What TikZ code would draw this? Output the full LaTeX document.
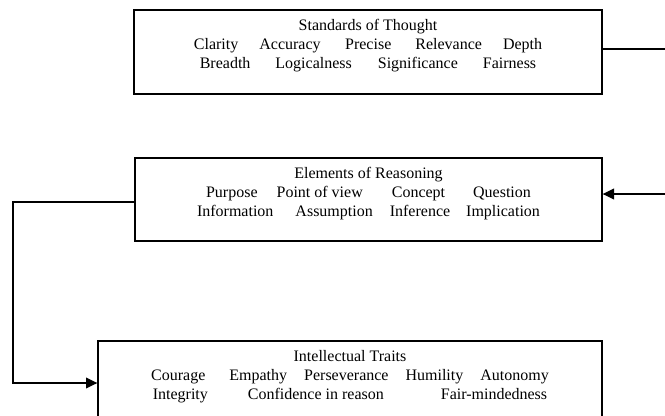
\documentclass[tikz,border=0pt]{standalone}
\usepackage{fontspec}
\setmainfont{Liberation Serif}
\usetikzlibrary{arrows.meta}

\begin{document}
\begin{tikzpicture}[x=0.75pt, y=-0.75pt, line width=1pt,
    box/.style={draw, shape=rectangle, inner sep=0, minimum height=63pt},
    boxtext/.style={align=center, inner sep=0,
        font=\fontsize{12pt}{14.25pt}\selectfont},
    tip/.style={-{Triangle[length=8.5pt, width=8pt]}}]

    \useasboundingbox (0, 0) rectangle (665, 415);

    % Boxes
    \node[box, minimum width=351pt] (std) at (368, 52) {};
    \node[box, minimum width=350.25pt, minimum height=62.25pt] (elem) at (368.5, 199.5) {};
    \node[box, minimum width=378pt] (traits) at (350, 383) {};

    % Texts
    \node[boxtext] (std-text) at ([yshift=4.5pt]std.center) {Standards of Thought\\
        Clarity\hspace{15.75pt}Accuracy\hspace{18.4pt}Precise\hspace{18pt}Relevance\hspace{15.75pt}Depth\\
        Breadth\hspace{18.75pt}Logicalness\hspace{19.5pt}Significance\hspace{18.75pt}Fairness};
    \node[boxtext] (elem-text) at ([yshift=4.5pt]elem.center) {Elements of Reasoning\\
        Purpose\hspace{14.25pt}Point of view\hspace{21.75pt}Concept\hspace{21pt}Question\\
        Information\hspace{16.5pt}Assumption\hspace{12.75pt}Inference\hspace{12pt}Implication};
    \node[boxtext] (traits-text) at ([yshift=4.5pt]traits.center) {Intellectual Traits\\
        Courage\hspace{18pt}Empathy\hspace{12.75pt}Perseverance\hspace{12.75pt}Humility\hspace{12.75pt}Autonomy\\
        Integrity\hspace{30pt}Confidence in reason\hspace{42.75pt}Fair-mindedness};

    % Ends at the edge
    \coordinate (r1) at (665, 49);
    \coordinate (r2) at (665, 194);
    \coordinate (l1) at (13, 202);
    \coordinate (l2) at (13, 383);

    % Lines
    \draw (std.east |- r1) -- (r1);
    \draw[tip] (r2) -- (elem.east |- r2);
    \draw[tip] (elem.west |- l1) -- (l1) -- (l2) -- (traits.west);

\end{tikzpicture}
\end{document}
